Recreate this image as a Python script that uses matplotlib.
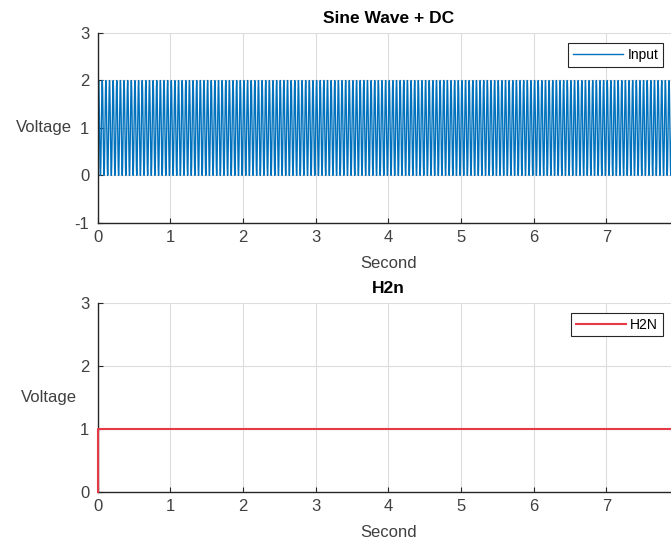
import numpy as np
import matplotlib
matplotlib.use("Agg")
import matplotlib.pyplot as plt

plt.rcParams['font.family'] = ['Liberation Sans', 'DejaVu Sans']
plt.rcParams['axes.unicode_minus'] = False

# signal settings (sine wave riding on a DC level)
dc_offset = 1.0
amplitude = 1.0
sine_freq_hz = 20
sample_rate = 1000
t_end = 8

# H2N output: steps up to 1 at t=0 and stays there
h2n_t = [0, 0, 8]
h2n_v = [0, 1, 1]

x_ticks = [0, 1, 2, 3, 4, 5, 6, 7]
top_yticks = [-1, 0, 1, 2, 3]
bot_yticks = [0, 1, 2, 3]

t = np.arange(0, t_end + 1.0 / sample_rate, 1.0 / sample_rate)
wave = dc_offset + amplitude * np.sin(2 * np.pi * sine_freq_hz * t)

dark = '#262626'
fig = plt.figure(figsize=(6.71, 5.42), dpi=100)
ax1 = fig.add_axes([0.1456, 0.5886, 0.8663, 0.3506])
ax2 = fig.add_axes([0.1456, 0.0928, 0.8663, 0.3487])


def style(ax, yticks, ylab_x):
    ax.set_xlim(0, 8)
    ax.set_xticks(x_ticks)
    ax.set_ylim(yticks[0], yticks[-1])
    ax.set_yticks(yticks)
    ax.grid(True, color='#dcdcdc', linewidth=0.8)
    ax.set_axisbelow(True)
    for s in ['top', 'right']:
        ax.spines[s].set_visible(False)
    for s in ['left', 'bottom']:
        ax.spines[s].set_color(dark)
        ax.spines[s].set_linewidth(1.0)
    ax.tick_params(direction='in', length=3.5, width=0.8, colors=dark,
                   labelsize=12, labelcolor='#404040')
    ax.tick_params(axis='x', pad=5)
    ax.tick_params(axis='y', pad=6)
    ax.set_xlabel('Second', fontsize=12, color='#404040')
    ax.xaxis.set_label_coords(0.5, -0.215)
    ax.xaxis.label.set_va('center')
    ax.set_ylabel('Voltage', fontsize=12, color='#404040', rotation=0,
                  ha='right', va='center')
    ax.yaxis.set_label_coords(ylab_x, 0.5)


ax1.plot(t, wave, color='#0072BD', linewidth=1.0, label='Input')
style(ax1, top_yticks, -0.044)
ax1.set_title('Sine Wave + DC', fontsize=12.5, fontweight='bold', pad=7)
leg1 = ax1.legend(loc='upper right', bbox_to_anchor=(0.9725, 0.947),
                  borderaxespad=0, fontsize=10, handlelength=3.6,
                  handletextpad=0.3, borderpad=0.35, fancybox=False,
                  framealpha=1, edgecolor=dark)
leg1.get_frame().set_linewidth(0.8)

ax2.plot(h2n_t, h2n_v, color='#e53945', linewidth=1.5, label='H2N',
         zorder=5, clip_on=False)
style(ax2, bot_yticks, -0.035)
ax2.set_title('H2n', fontsize=12.5, fontweight='bold', pad=7)
leg2 = ax2.legend(loc='upper right', bbox_to_anchor=(0.9725, 0.947),
                  borderaxespad=0, fontsize=10, handlelength=3.6,
                  handletextpad=0.3, borderpad=0.35, fancybox=False,
                  framealpha=1, edgecolor=dark)
leg2.get_frame().set_linewidth(0.8)

fig.savefig('out.png', dpi=100)
